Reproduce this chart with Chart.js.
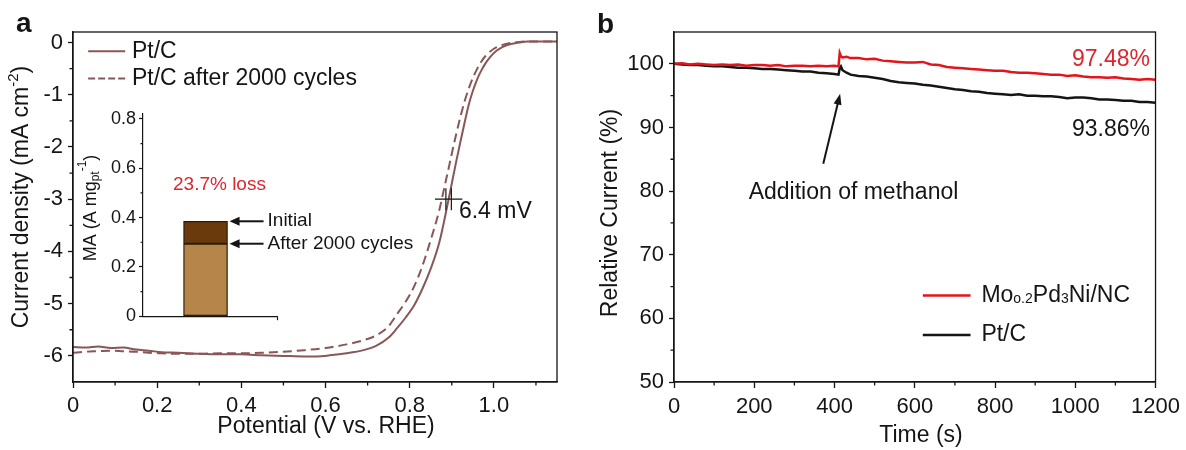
<!DOCTYPE html>
<html>
<head>
<meta charset="utf-8">
<script src="https://cdn.jsdelivr.net/npm/chart.js@4.4.1/dist/chart.umd.min.js"></script>
<style>
html, body { margin: 0; padding: 0; background: #fff; }
#wrap { position: relative; width: 1186px; height: 450px; overflow: hidden; }
canvas { position: absolute; }
</style>
</head>
<body>
<div id="wrap">
  <canvas id="lsv" width="590" height="450" style="left:0;top:0;"></canvas>
  <canvas id="inset" width="380" height="230" style="left:60px;top:100px;"></canvas>
  <canvas id="stab" width="596" height="450" style="left:590px;top:0;"></canvas>
</div>
<script>
// ── DATA ─────────────────────────────────────────────────────────────────────

// panel a: LSV of Pt/C before / after 2000 cycles
var lsvXTicks = [0, 0.2, 0.4, 0.6, 0.8, 1.0];
var lsvYTicks = [0, -1, -2, -3, -4, -5, -6];

var ptcPotential = [0.00, 0.03, 0.06, 0.09, 0.12, 0.15, 0.18, 0.21, 0.25, 0.30, 0.35, 0.40, 0.45, 0.50, 0.55, 0.58,
  0.61, 0.65, 0.69, 0.72, 0.75, 0.77, 0.79, 0.81, 0.83, 0.85, 0.87, 0.89, 0.90, 0.91, 0.92, 0.93, 0.94, 0.95,
  0.96, 0.97, 0.98, 0.99, 1.00, 1.02, 1.04, 1.06, 1.08, 1.11, 1.15];
var ptcCurrent = [-5.83, -5.84, -5.82, -5.85, -5.84, -5.88, -5.90, -5.93, -5.94, -5.96, -5.97, -5.97, -5.99, -6.00, -6.01, -6.01,
  -5.99, -5.95, -5.89, -5.81, -5.65, -5.47, -5.27, -5.04, -4.72, -4.33, -3.84, -3.10, -2.70, -2.30, -1.92, -1.55, -1.20, -0.93,
  -0.71, -0.54, -0.40, -0.29, -0.20, -0.09, -0.03, 0.00, 0.02, 0.02, 0.02];

var cycledPotential = [0.00, 0.03, 0.06, 0.09, 0.12, 0.15, 0.18, 0.21, 0.25, 0.30, 0.35, 0.40, 0.45, 0.50, 0.55, 0.60,
  0.65, 0.69, 0.72, 0.75, 0.77, 0.79, 0.81, 0.83, 0.85, 0.87, 0.88, 0.89, 0.90, 0.91, 0.92, 0.93, 0.94, 0.95,
  0.96, 0.97, 0.98, 1.00, 1.02, 1.04, 1.06, 1.09, 1.15];
var cycledCurrent = [-5.94, -5.92, -5.91, -5.90, -5.91, -5.92, -5.94, -5.95, -5.96, -5.96, -5.95, -5.95, -5.94, -5.92, -5.89, -5.85,
  -5.78, -5.70, -5.61, -5.43, -5.20, -4.97, -4.68, -4.28, -3.78, -3.22, -2.86, -2.50, -2.13, -1.77, -1.44, -1.14, -0.89, -0.68,
  -0.51, -0.37, -0.26, -0.12, -0.05, -0.01, 0.01, 0.02, 0.02];

// inset: mass activity
var maPosition = [0];
var maInitial = [0.385];
var maAfter = [0.294];
var maYTicks = [0, 0.2, 0.4, 0.6, 0.8];

// panel b: chronoamperometry with methanol addition
var stabXTicks = [0, 200, 400, 600, 800, 1000, 1200];
var stabYTicks = [50, 60, 70, 80, 90, 100];
var stabTime = [0, 20, 40, 60, 80, 100, 120, 140, 160, 180, 200, 220, 240, 260, 280, 300, 320, 340, 360, 380, 400,
  410, 413, 416, 420, 430, 440,
  460, 480, 500, 520, 540, 560, 580, 600, 620, 640, 660, 680, 700, 720, 740, 760, 780, 800, 820, 840, 860, 880, 900,
  920, 940, 960, 980, 1000, 1020, 1040, 1060, 1080, 1100, 1120, 1140, 1160, 1180, 1200];
var moPdNi = [100.0, 100.1, 99.9, 100.0, 99.9, 99.8, 99.9, 99.8, 99.9, 99.7, 99.8, 99.8, 99.7, 99.8, 99.6, 99.7, 99.7, 99.6, 99.7, 99.6, 99.7,
  99.6, 101.7, 101.2, 101.0, 101.1, 100.9,
  100.9, 100.7, 100.8, 100.5, 100.4, 100.3, 100.2, 100.2, 100.3, 99.9, 99.8, 99.5, 99.4, 99.3, 99.2, 99.1, 99.0, 98.9, 98.9,
  98.7, 98.6, 98.6, 98.5, 98.4, 98.3, 98.3, 98.1, 98.2, 98.0, 97.9, 97.9, 97.8, 97.9, 97.7, 97.6, 97.5, 97.6, 97.5];
var ptcStab = [100.0, 99.9, 99.8, 99.8, 99.7, 99.6, 99.6, 99.5, 99.4, 99.4, 99.3, 99.2, 99.2, 99.1, 99.0, 98.9, 98.8, 98.8, 98.6, 98.5, 98.4,
  98.3, 99.3, 99.6, 99.0, 98.6, 98.3,
  98.1, 98.0, 97.8, 97.6, 97.3, 97.1, 97.0, 96.9, 96.7, 96.6, 96.4, 96.2, 96.0, 95.9, 95.7, 95.6, 95.4, 95.3, 95.2,
  95.1, 95.2, 95.0, 95.0, 94.9, 94.9, 94.8, 94.6, 94.7, 94.7, 94.6, 94.4, 94.4, 94.3, 94.2, 94.2, 94.0, 94.0, 93.9];

// ── STYLE ────────────────────────────────────────────────────────────────────

var FONT = '"Liberation Sans", Arial, sans-serif';
var INK = '#151515';
var LSV_COLOR = '#8a5656';
var RED = '#e3141b';
var RED_TEXT = '#e0262c';
var BAR_LIGHT = '#b5854a';
var BAR_DARK = '#6b3a0c';

Chart.defaults.font.family = FONT;
Chart.defaults.color = INK;

// ── HELPERS ──────────────────────────────────────────────────────────────────

function pairs(xs, ys) {
  return xs.map(function(x, i) { return { x: x, y: ys[i] }; });
}

function useTicks(values) {
  return function(scale) {
    scale.ticks = values.map(function(v) { return { value: v }; });
  };
}

function minorOf(scale, ticks) {
  var half = (ticks[1] - ticks[0]) / 2;
  var lo = Math.min(scale.min, scale.max), hi = Math.max(scale.min, scale.max);
  var out = [];
  ticks.forEach(function(t) {
    var v = t + half;
    if (v > lo + 1e-9 && v < hi - 1e-9) out.push(v);
  });
  return out;
}

function drawMinor(ctx, chart, id, values, len) {
  var s = chart.scales[id], a = chart.chartArea;
  ctx.beginPath();
  values.forEach(function(v) {
    var p = s.getPixelForValue(v);
    if (s.isHorizontal()) { ctx.moveTo(p, a.bottom); ctx.lineTo(p, a.bottom + len); }
    else { ctx.moveTo(a.left, p); ctx.lineTo(a.left - len, p); }
  });
  ctx.stroke();
}

// runs: [text, size, shift]; drawn centred (or left) at x,y with rotation
function drawRuns(ctx, x, y, rot, runs, align) {
  ctx.save();
  ctx.translate(x, y);
  ctx.rotate(rot);
  ctx.textBaseline = 'middle';
  ctx.textAlign = 'left';
  var total = 0;
  runs.forEach(function(r) {
    ctx.font = r[1] + 'px ' + FONT;
    total += ctx.measureText(r[0]).width;
  });
  var cx = align === 'left' ? 0 : -total / 2;
  runs.forEach(function(r) {
    ctx.font = r[1] + 'px ' + FONT;
    ctx.fillText(r[0], cx, r[2] || 0);
    cx += ctx.measureText(r[0]).width;
  });
  ctx.restore();
}

function arrow(ctx, x1, y1, x2, y2, head, half) {
  var ang = Math.atan2(y2 - y1, x2 - x1);
  var c = Math.cos(ang), s = Math.sin(ang);
  ctx.beginPath();
  ctx.moveTo(x1, y1);
  ctx.lineTo(x2 - c * head * 0.7, y2 - s * head * 0.7);
  ctx.stroke();
  ctx.beginPath();
  ctx.moveTo(x2, y2);
  ctx.lineTo(x2 - head * c + half * s, y2 - head * s - half * c);
  ctx.lineTo(x2 - head * c - half * s, y2 - head * s + half * c);
  ctx.closePath();
  ctx.fill();
}

function tickFont(size) { return { family: FONT, size: size }; }

// ── PANEL A: LSV ─────────────────────────────────────────────────────────────

var lsvDecor = {
  id: 'lsvDecor',
  afterDraw: function(chart) {
    var ctx = chart.ctx, a = chart.chartArea, x = chart.scales.x, y = chart.scales.y;
    ctx.save();
    ctx.strokeStyle = INK;
    ctx.lineWidth = 1.3;
    ctx.strokeRect(a.left, a.top, a.right - a.left, a.bottom - a.top);
    drawMinor(ctx, chart, 'x', minorOf(x, lsvXTicks), 3.5);
    drawMinor(ctx, chart, 'y', minorOf(y, lsvYTicks), 3.5);

    // legend
    ctx.strokeStyle = LSV_COLOR;
    ctx.lineWidth = 2;
    ctx.beginPath();
    ctx.moveTo(x.getPixelForValue(0.036), y.getPixelForValue(-0.17));
    ctx.lineTo(x.getPixelForValue(0.124), y.getPixelForValue(-0.17));
    ctx.stroke();
    ctx.setLineDash([7, 3]);
    ctx.beginPath();
    ctx.moveTo(x.getPixelForValue(0.036), y.getPixelForValue(-0.69));
    ctx.lineTo(x.getPixelForValue(0.124), y.getPixelForValue(-0.69));
    ctx.stroke();
    ctx.setLineDash([]);
    ctx.fillStyle = INK;
    ctx.font = '23px ' + FONT;
    ctx.textBaseline = 'middle';
    ctx.fillText('Pt/C', x.getPixelForValue(0.14), y.getPixelForValue(-0.17));
    ctx.fillText('Pt/C after 2000 cycles', x.getPixelForValue(0.14), y.getPixelForValue(-0.69));

    // half-wave shift marker
    ctx.strokeStyle = INK;
    ctx.lineWidth = 1.2;
    ctx.beginPath();
    ctx.moveTo(x.getPixelForValue(0.86), y.getPixelForValue(-3.0));
    ctx.lineTo(x.getPixelForValue(0.925), y.getPixelForValue(-3.0));
    [0.886, 0.899].forEach(function(v) {
      ctx.moveTo(x.getPixelForValue(v), y.getPixelForValue(-2.79));
      ctx.lineTo(x.getPixelForValue(v), y.getPixelForValue(-3.21));
    });
    ctx.stroke();
    ctx.font = '23px ' + FONT;
    ctx.fillText('6.4 mV', x.getPixelForValue(0.917), y.getPixelForValue(-3.24));

    // axis titles
    drawRuns(ctx, 22, 197, -Math.PI / 2, [['Current density (mA cm', 23, 0], ['-2', 15, -8], [')', 23, 0]]);
    drawRuns(ctx, 326, 427, 0, [['Potential (V vs. RHE)', 23, 0]]);

    // panel letter
    ctx.font = 'bold 28px ' + FONT;
    ctx.textBaseline = 'alphabetic';
    ctx.fillText('a', 16, 32);
    ctx.restore();
  }
};

new Chart(document.getElementById('lsv'), {
  type: 'line',
  data: {
    datasets: [
      {
        label: 'Pt/C',
        data: pairs(ptcPotential, ptcCurrent),
        borderColor: LSV_COLOR,
        borderWidth: 2,
        pointRadius: 0,
        cubicInterpolationMode: 'monotone',
      },
      {
        label: 'Pt/C after 2000 cycles',
        data: pairs(cycledPotential, cycledCurrent),
        borderColor: LSV_COLOR,
        borderWidth: 2,
        borderDash: [9, 5],
        pointRadius: 0,
        cubicInterpolationMode: 'monotone',
      },
    ],
  },
  options: {
    responsive: false,
    animation: false,
    layout: { padding: { top: 32, right: 33, left: 0, bottom: 0 } },
    plugins: { legend: { display: false }, tooltip: { enabled: false } },
    scales: {
      x: {
        type: 'linear',
        min: 0,
        max: 1.15,
        afterBuildTicks: useTicks(lsvXTicks),
        afterFit: function(s) { s.height = 68; },
        grid: { drawOnChartArea: false, tickLength: 6, tickWidth: 1.3, tickColor: INK },
        border: { color: INK, width: 1.3 },
        ticks: {
          color: INK, font: tickFont(22), padding: 5, maxRotation: 0, autoSkip: false,
          callback: function(v) { return v === 0 ? '0' : v.toFixed(1); },
        },
      },
      y: {
        type: 'linear',
        min: -6.5,
        max: 0.2,
        afterBuildTicks: useTicks(lsvYTicks),
        afterFit: function(s) { s.width = 73; },
        grid: { drawOnChartArea: false, tickLength: 5, tickWidth: 1.3, tickColor: INK },
        border: { color: INK, width: 1.3 },
        ticks: {
          color: INK, font: tickFont(22), padding: 5, autoSkip: false,
          callback: function(v) { return String(v); },
        },
      },
    },
  },
  plugins: [lsvDecor],
});

// ── INSET: MASS ACTIVITY ─────────────────────────────────────────────────────

var insetDecor = {
  id: 'insetDecor',
  afterDraw: function(chart) {
    var ctx = chart.ctx, a = chart.chartArea, x = chart.scales.x, y = chart.scales.y;
    ctx.save();
    ctx.strokeStyle = INK;
    ctx.lineWidth = 1.2;
    drawMinor(ctx, chart, 'y', minorOf(y, maYTicks), 2.5);
    ctx.fillStyle = INK;

    drawRuns(ctx, 31, 108, -Math.PI / 2, [['MA (A mg', 18, 0], ['pt', 12, 5], ['-1', 12, -8], [')', 18, 0]]);

    ctx.fillStyle = RED_TEXT;
    ctx.font = '19px ' + FONT;
    ctx.textBaseline = 'middle';
    ctx.fillText('23.7% loss', a.left + 30, y.getPixelForValue(0.535));

    var edge = x.getPixelForValue(maPosition[0]) + 24;
    ctx.fillStyle = INK;
    ctx.strokeStyle = INK;
    ctx.lineWidth = 2;
    arrow(ctx, edge + 34, y.getPixelForValue(maInitial[0]), edge, y.getPixelForValue(maInitial[0]), 10, 4.5);
    arrow(ctx, edge + 34, y.getPixelForValue(maAfter[0]), edge, y.getPixelForValue(maAfter[0]), 10, 4.5);
    ctx.fillText('Initial', edge + 38, y.getPixelForValue(maInitial[0]) - 1);
    ctx.fillText('After 2000 cycles', edge + 38, y.getPixelForValue(maAfter[0]));
    ctx.restore();
  }
};

new Chart(document.getElementById('inset'), {
  type: 'bar',
  data: {
    datasets: [
      {
        label: 'After 2000 cycles',
        data: maPosition.map(function(p, i) { return { x: p, y: [0, maAfter[i]] }; }),
        backgroundColor: BAR_LIGHT,
        borderColor: '#2a1a0a',
        borderWidth: 1.3,
        borderSkipped: false,
        barThickness: 44,
        grouped: false,
      },
      {
        label: 'Initial',
        data: maPosition.map(function(p, i) { return { x: p, y: [maAfter[i], maInitial[i]] }; }),
        backgroundColor: BAR_DARK,
        borderColor: '#2a1a0a',
        borderWidth: 1.3,
        borderSkipped: false,
        barThickness: 44,
        grouped: false,
      },
    ],
  },
  options: {
    responsive: false,
    animation: false,
    layout: { padding: { top: 13, right: 163, left: 0, bottom: 0 } },
    plugins: { legend: { display: false }, tooltip: { enabled: false } },
    scales: {
      x: {
        type: 'linear',
        min: -1.4,
        max: 1.6,
        offset: false,
        afterBuildTicks: useTicks(maPosition),
        afterFit: function(s) { s.height = 12; },
        grid: { drawOnChartArea: false, tickLength: 4, tickWidth: 1.2, tickColor: INK },
        border: { color: INK, width: 1.2 },
        ticks: { display: false },
      },
      y: {
        type: 'linear',
        min: 0,
        max: 0.821,
        afterBuildTicks: useTicks(maYTicks),
        afterFit: function(s) { s.width = 83; },
        grid: { drawOnChartArea: false, tickLength: 4, tickWidth: 1.2, tickColor: INK },
        border: { color: INK, width: 1.2 },
        ticks: {
          color: INK, font: tickFont(18), padding: 3, autoSkip: false,
          callback: function(v) { return v === 0 ? '0' : v.toFixed(1); },
        },
      },
    },
  },
  plugins: [insetDecor],
});

// ── PANEL B: STABILITY ───────────────────────────────────────────────────────

var stabDecor = {
  id: 'stabDecor',
  afterDraw: function(chart) {
    var ctx = chart.ctx, a = chart.chartArea, x = chart.scales.x, y = chart.scales.y;
    ctx.save();
    ctx.strokeStyle = INK;
    ctx.lineWidth = 1.3;
    ctx.strokeRect(a.left, a.top, a.right - a.left, a.bottom - a.top);
    drawMinor(ctx, chart, 'x', minorOf(x, stabXTicks), 3.5);
    drawMinor(ctx, chart, 'y', minorOf(y, stabYTicks), 3.5);

    ctx.textBaseline = 'middle';
    ctx.font = '23px ' + FONT;
    ctx.textAlign = 'right';
    ctx.fillStyle = RED_TEXT;
    ctx.fillText('97.48%', x.getPixelForValue(1186), y.getPixelForValue(100.6));
    ctx.fillStyle = INK;
    ctx.fillText('93.86%', x.getPixelForValue(1186), y.getPixelForValue(89.6));
    ctx.textAlign = 'left';
    ctx.fillText('Addition of methanol', x.getPixelForValue(186), y.getPixelForValue(79.8));

    ctx.strokeStyle = INK;
    ctx.fillStyle = INK;
    ctx.lineWidth = 2;
    arrow(ctx, x.getPixelForValue(372), y.getPixelForValue(84.3), x.getPixelForValue(414), y.getPixelForValue(95.3), 11, 4);

    // legend
    ctx.lineWidth = 2.5;
    ctx.strokeStyle = RED;
    ctx.beginPath();
    ctx.moveTo(x.getPixelForValue(620), y.getPixelForValue(63.6));
    ctx.lineTo(x.getPixelForValue(739), y.getPixelForValue(63.6));
    ctx.stroke();
    ctx.strokeStyle = INK;
    ctx.beginPath();
    ctx.moveTo(x.getPixelForValue(620), y.getPixelForValue(57.4));
    ctx.lineTo(x.getPixelForValue(739), y.getPixelForValue(57.4));
    ctx.stroke();
    drawRuns(ctx, x.getPixelForValue(766), y.getPixelForValue(63.6), 0,
      [['Mo', 23, 0], ['o.2', 14, 4], ['Pd', 23, 0], ['3', 14, 4], ['Ni/NC', 23, 0]], 'left');
    drawRuns(ctx, x.getPixelForValue(766), y.getPixelForValue(57.4), 0, [['Pt/C', 23, 0]], 'left');

    // axis titles
    drawRuns(ctx, 21, 213, -Math.PI / 2, [['Relative Current (%)', 23, 0]]);
    drawRuns(ctx, 331, 436, 0, [['Time (s)', 23, 0]]);

    ctx.font = 'bold 28px ' + FONT;
    ctx.textBaseline = 'alphabetic';
    ctx.fillText('b', 7, 33);
    ctx.restore();
  }
};

new Chart(document.getElementById('stab'), {
  type: 'line',
  data: {
    datasets: [
      {
        label: 'Mo0.2Pd3Ni/NC',
        data: pairs(stabTime, moPdNi),
        borderColor: RED,
        borderWidth: 2.5,
        pointRadius: 0,
        tension: 0,
      },
      {
        label: 'Pt/C',
        data: pairs(stabTime, ptcStab),
        borderColor: INK,
        borderWidth: 2.5,
        pointRadius: 0,
        tension: 0,
      },
    ],
  },
  options: {
    responsive: false,
    animation: false,
    layout: { padding: { top: 32, right: 28, left: 0, bottom: 0 } },
    plugins: { legend: { display: false }, tooltip: { enabled: false } },
    scales: {
      x: {
        type: 'linear',
        min: 0,
        max: 1200,
        afterBuildTicks: useTicks(stabXTicks),
        afterFit: function(s) { s.height = 68; },
        grid: { drawOnChartArea: false, tickLength: 6, tickWidth: 1.3, tickColor: INK },
        border: { color: INK, width: 1.3 },
        ticks: {
          color: INK, font: tickFont(22), padding: 6, maxRotation: 0, autoSkip: false,
          callback: function(v) { return String(v); },
        },
      },
      y: {
        type: 'linear',
        min: 50,
        max: 105,
        afterBuildTicks: useTicks(stabYTicks),
        afterFit: function(s) { s.width = 84; },
        grid: { drawOnChartArea: false, tickLength: 5, tickWidth: 1.3, tickColor: INK },
        border: { color: INK, width: 1.3 },
        ticks: {
          color: INK, font: tickFont(22), padding: 5, autoSkip: false,
          callback: function(v) { return String(v); },
        },
      },
    },
  },
  plugins: [stabDecor],
});
</script>
</body>
</html>
